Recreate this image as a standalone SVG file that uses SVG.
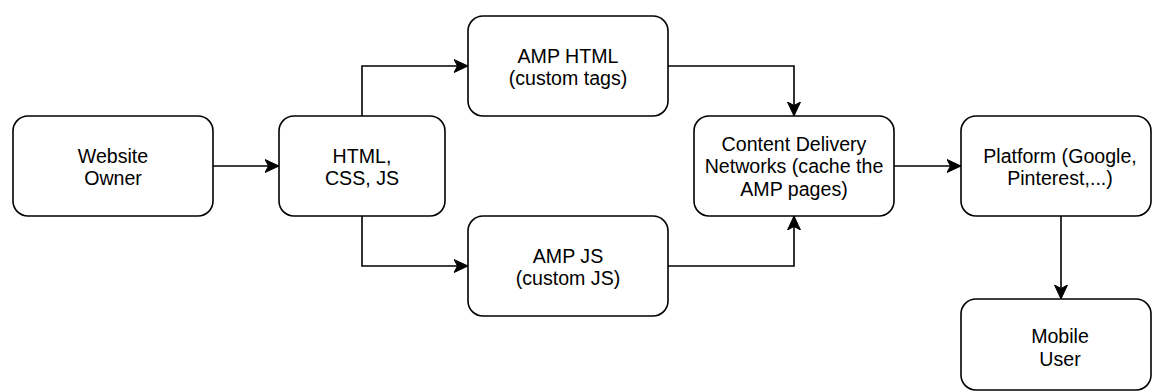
<svg xmlns="http://www.w3.org/2000/svg" width="1152" height="392" viewBox="0 0 1152 392">
<style>
.box{fill:#ffffff;stroke:#000000;stroke-width:1.6}
.lbl{font-family:"Liberation Sans",Arial,Helvetica,sans-serif;font-size:19.6px;fill:#000000;text-anchor:middle}
.edge{fill:none;stroke:#000000;stroke-width:1.6}
</style>
<defs>
<marker id="arr" viewBox="0 0 14 14" refX="14" refY="7" markerWidth="14" markerHeight="14" markerUnits="userSpaceOnUse" orient="auto">
<path d="M0,0.5 L14,7 L0,13.5 L3.5,7 Z" fill="#000000" stroke="#000000" stroke-width="1"/>
</marker>
</defs>
<rect x="0" y="0" width="1152" height="392" fill="#ffffff"/>
<g id="connectors">
<path class="edge" d="M213,166 H279" marker-end="url(#arr)"/>
<path class="edge" d="M362,116 V66 H468" marker-end="url(#arr)"/>
<path class="edge" d="M362,216 V266 H468" marker-end="url(#arr)"/>
<path class="edge" d="M668,66 H794 V116" marker-end="url(#arr)"/>
<path class="edge" d="M668,266 H794 V216" marker-end="url(#arr)"/>
<path class="edge" d="M894,166 H961" marker-end="url(#arr)"/>
<path class="edge" d="M1061,216 V299" marker-end="url(#arr)"/>
</g>
<g id="website-owner">
<rect class="box" x="13" y="116" width="200" height="100" rx="15" ry="15"/>
<text class="lbl" x="113" y="162.7">Website</text>
<text class="lbl" x="113" y="185.2">Owner</text>
</g>
<g id="html-css-js">
<rect class="box" x="279" y="116" width="166" height="100" rx="15" ry="15"/>
<text class="lbl" x="362" y="162.7">HTML,</text>
<text class="lbl" x="362" y="185.2">CSS, JS</text>
</g>
<g id="amp-html">
<rect class="box" x="468" y="16" width="200" height="100" rx="15" ry="15"/>
<text class="lbl" x="568" y="62.7">AMP HTML</text>
<text class="lbl" x="568" y="85.2">(custom tags)</text>
</g>
<g id="amp-js">
<rect class="box" x="468" y="216" width="200" height="100" rx="15" ry="15"/>
<text class="lbl" x="568" y="262.7">AMP JS</text>
<text class="lbl" x="568" y="285.2">(custom JS)</text>
</g>
<g id="cdn">
<rect class="box" x="694" y="116" width="200" height="100" rx="15" ry="15"/>
<text class="lbl" x="794" y="150.5">Content Delivery</text>
<text class="lbl" x="794" y="173">Networks (cache the</text>
<text class="lbl" x="794" y="195.5">AMP pages)</text>
</g>
<g id="platform">
<rect class="box" x="961" y="116" width="190" height="100" rx="15" ry="15"/>
<text class="lbl" x="1060" y="162.7">Platform (Google,</text>
<text class="lbl" x="1060" y="185.2">Pinterest,...)</text>
</g>
<g id="mobile-user">
<rect class="box" x="961" y="299" width="190" height="91" rx="15" ry="15"/>
<text class="lbl" x="1060" y="343.3">Mobile</text>
<text class="lbl" x="1060" y="365.8">User</text>
</g>
</svg>
